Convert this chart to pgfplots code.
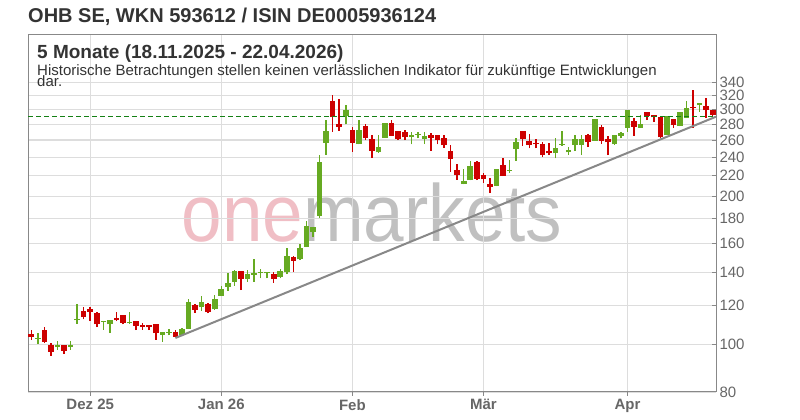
\documentclass[border=0pt]{standalone}
\usepackage{pgfplots}
\usepackage{pgfplotstable}
\pgfplotsset{compat=1.18}
\usepackage{fontspec}
\setmainfont{Liberation Sans}
\definecolor{cred}{RGB}{205,0,0}
\definecolor{cgreen}{RGB}{102,170,34}
\definecolor{gridgray}{RGB}{221,221,221}
\definecolor{axisgray}{RGB}{136,136,136}
\definecolor{labelgray}{RGB}{102,102,102}
\definecolor{titlegray}{RGB}{51,51,51}
\definecolor{trendgray}{RGB}{136,136,136}
\definecolor{dashgreen}{RGB}{20,128,20}
\definecolor{wmpink}{RGB}{240,190,197}
\definecolor{wmgray}{RGB}{192,192,192}

% up (green) candles: index open high low close
\pgfplotstableread{
x o h l c
1 102.7 105.6 100.3 103.2
4 98.7 101.4 97.5 99.5
6 98.7 101.4 97.5 99.5
7 111.9 120.6 110.2 112.5
11 111.0 111.7 107.1 111.5
12 109.7 112.1 105.4 111.9
15 110.3 116.2 110.2 110.9
20 104.6 106.1 101.1 105.9
21 105.6 107.6 104.3 106.1
23 104.3 107.8 104.1 107.6
24 107.6 123.5 107.4 121.6
26 118.8 125.2 117.0 121.6
28 117.8 125.8 117.6 123.5
29 125.4 131.2 125.2 129.8
30 130.8 139.3 128.2 133.2
31 133.9 141.4 131.4 140.8
33 135.6 141.4 133.9 138.8
34 138.6 148.9 133.9 139.7
35 139.5 142.5 136.1 140.2
36 139.3 140.1 136.1 140.0
38 137.1 142.1 136.1 140.8
39 140.3 157.0 138.8 151.3
41 148.7 159.8 148.2 157.0
42 157.7 177.8 157.5 173.7
43 169.2 173.4 165.3 173.2
44 182.1 242.5 180.6 235.0
45 256.8 285.6 242.5 271.3
48 291.6 306.3 279.8 299.2
50 255.0 285.5 254.8 272.5
53 245.3 266.2 245.1 252.1
54 262.8 281.3 262.6 281.1
58 263.3 269.6 254.8 266.2
59 266.0 270.3 262.1 267.3
60 261.2 269.6 255.2 264.9
66 211.6 227.0 211.4 214.6
67 215.6 236.0 215.4 230.2
71 209.6 227.2 209.4 227.0
73 225.0 236.7 223.2 226.0
74 249.3 262.8 236.0 258.0
80 244.2 262.1 238.6 250.9
81 254.3 271.2 253.0 255.3
82 245.3 252.1 242.4 248.1
83 254.0 266.7 246.9 261.2
84 254.0 266.7 242.4 261.2
86 259.2 287.1 259.0 286.9
89 254.8 266.4 254.6 266.2
90 265.3 270.3 262.1 268.5
91 275.4 299.4 270.3 299.2
93 275.4 292.3 275.2 279.8
97 266.2 291.1 266.0 290.9
99 277.5 296.1 277.3 295.9
100 288.8 312.1 288.0 302.6
102 305.7 309.4 297.0 309.2
}\upcandles

% down (red) candles: index open high low close
\pgfplotstableread{
x o h l c
0 105.1 106.8 102.2 103.5
2 106.8 108.4 100.6 101.1
3 99.5 100.8 94.7 96.5
5 99.5 99.8 95.7 96.9
8 116.9 119.1 112.3 113.6
9 118.2 119.1 111.5 116.3
10 116.0 116.3 108.4 109.7
13 113.1 116.2 111.4 111.9
14 114.6 114.8 109.7 110.5
16 111.4 111.6 106.8 109.0
17 109.3 110.7 107.1 108.4
18 109.3 109.5 106.8 108.4
19 109.8 110.2 102.2 105.4
22 105.9 106.8 103.3 103.5
25 120.0 121.0 115.8 117.3
27 121.0 121.2 115.5 116.3
32 140.8 141.0 128.8 135.6
37 138.8 140.3 133.5 135.6
40 150.1 151.3 140.3 147.5
46 312.1 321.0 270.3 289.2
47 280.6 315.0 271.6 276.7
49 272.5 275.9 245.9 256.7
51 277.6 280.4 260.0 262.1
52 261.2 266.2 239.3 247.3
55 281.9 285.5 265.1 265.3
56 271.2 271.4 260.0 261.2
57 269.6 272.5 260.0 263.3
61 266.2 268.5 247.3 262.8
62 266.2 266.4 254.8 260.0
63 262.8 266.2 250.9 254.0
64 246.9 254.0 224.1 237.9
65 225.9 232.9 215.9 220.7
68 234.4 236.0 215.6 217.1
69 220.7 222.5 212.7 216.3
70 212.1 217.4 203.0 208.8
72 231.3 238.6 219.5 219.7
75 271.2 271.4 253.2 261.2
76 258.8 267.1 250.1 254.0
77 256.5 261.2 250.1 254.8
78 254.8 257.2 239.6 242.4
79 246.9 255.9 242.4 244.2
85 266.7 266.9 251.4 257.2
87 276.7 278.9 255.8 258.8
88 261.2 264.6 242.4 257.2
92 284.2 288.0 265.3 276.7
94 296.0 297.0 285.5 290.9
95 292.3 292.5 283.2 289.2
96 289.9 290.1 262.1 263.3
98 286.9 287.1 275.4 278.9
101 304.0 328.6 275.4 301.8
103 305.0 316.7 288.0 299.2
104 299.2 299.4 288.0 292.3
}\downcandles

\begin{document}
\begin{tikzpicture}
\useasboundingbox (0,0) rectangle (800bp,420bp);
% watermark
\node[anchor=base, inner sep=0, xscale=0.9] at (372bp,178bp)
  {\fontsize{81bp}{81bp}\selectfont\textcolor{wmpink}{one}\textcolor{wmgray}{markets}};
\begin{axis}[
  at={(28bp,28bp)}, anchor=south west,
  scale only axis, width=688bp, height=357bp,
  xmin=-0.5, xmax=104.5,
  ymode=log, ymin=80, ymax=425,
  axis line style={axisgray, line width=1bp},
  xtick={9,29,49,69,91},
  xticklabels={Dez 25,Jan 26,Feb,Mär,Apr},
  ytick={80,100,120,140,160,180,200,220,240,260,280,300,320,340},
  yticklabels={80,100,120,140,160,180,200,220,240,260,280,300,320,340},
  yminorticks=false, xminorticks=false,
  ytick pos=right, yticklabel pos=right, xtick pos=bottom,
  xtick align=outside, ytick align=inside,
  major tick length=4bp,
  tick style={axisgray, line width=1bp},
  grid=major,
  major grid style={gridgray, line width=1.2bp},
  xticklabel style={font=\bfseries\fontsize{15bp}{15bp}\selectfont, text=labelgray},
  yticklabel style={font=\fontsize{15bp}{15bp}\selectfont, text=labelgray},
]
% wicks
\addplot[forget plot, draw=none, mark=none,
  error bars/.cd, y dir=plus, y explicit, error mark=none,
  error bar style={draw=cgreen, line width=1.5bp}]
  table[x=x, y=l, y error plus expr=\thisrow{h}-\thisrow{l}] {\upcandles};
\addplot[forget plot, draw=none, mark=none,
  error bars/.cd, y dir=plus, y explicit, error mark=none,
  error bar style={draw=cred, line width=1.5bp}]
  table[x=x, y=l, y error plus expr=\thisrow{h}-\thisrow{l}] {\downcandles};
% bodies
\addplot[forget plot, draw=none, mark=none,
  error bars/.cd, y dir=plus, y explicit, error mark=none,
  error bar style={draw=cgreen, line width=5.6bp}]
  table[x=x, y=o, y error plus expr=\thisrow{c}-\thisrow{o}] {\upcandles};
\addplot[forget plot, draw=none, mark=none,
  error bars/.cd, y dir=plus, y explicit, error mark=none,
  error bar style={draw=cred, line width=5.6bp}]
  table[x=x, y=c, y error plus expr=\thisrow{o}-\thisrow{c}] {\downcandles};
% reference line and trend line
\addplot[dashgreen, line width=1bp, dash pattern=on 5bp off 3bp] coordinates {(-0.5,290) (104.5,290)};
\addplot[trendgray, line width=2bp] coordinates {(22,103.0) (104.5,290.0)};
\end{axis}
% titles
\node[anchor=base west, inner sep=0, text=titlegray, font=\bfseries\fontsize{20bp}{20bp}\selectfont]
  at (28bp,397bp) {OHB SE, WKN 593612 / ISIN DE0005936124};
\node[anchor=base west, inner sep=0, text=titlegray, font=\bfseries\fontsize{19bp}{19bp}\selectfont]
  at (37bp,361.7bp) {5 Monate (18.11.2025 - 22.04.2026)};
\node[anchor=base west, inner sep=0, text=titlegray, font=\fontsize{15bp}{15bp}\selectfont]
  at (37bp,344.5bp) {Historische Betrachtungen stellen keinen verlässlichen Indikator für zukünftige Entwicklungen};
\node[anchor=base west, inner sep=0, text=titlegray, font=\fontsize{15bp}{15bp}\selectfont]
  at (37bp,333.5bp) {dar.};
\end{tikzpicture}
\end{document}
